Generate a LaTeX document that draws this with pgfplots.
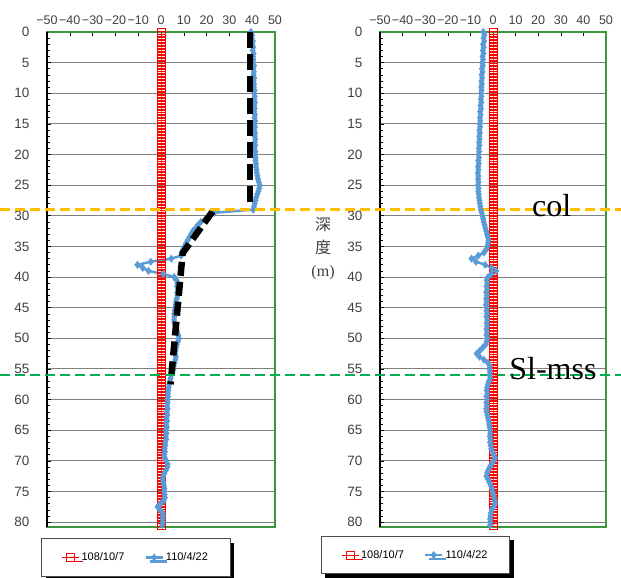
\documentclass[border=0pt]{standalone}
\usepackage{pgfplots}
\pgfplotsset{compat=1.18}
\usepackage{pgfplotstable}
\usepackage{fontspec}
\setmainfont{Liberation Sans}
\newfontfamily\serif{Liberation Serif}
\newfontfamily\cjk{Noto Sans CJK TC}
\usetikzlibrary{shadows}
\definecolor{bl}{RGB}{91,155,213}
\definecolor{tl}{RGB}{64,64,64}
\definecolor{fr}{RGB}{60,150,60}
\definecolor{org}{RGB}{255,192,0}
\definecolor{grn}{RGB}{0,176,80}

\pgfplotstableread{
d a b
0 0 39.5
0.5 0 40.0
1 0 39.8
1.5 0 40.3
2 0 40.1
2.5 0 40.4
3 0 40.2
3.5 0 40.6
4 0 40.3
4.5 0 40.5
5 0 40.4
5.5 0 40.8
6 0 40.5
6.5 0 40.7
7 0 40.6
7.5 0 40.9
8 0 40.6
8.5 0 40.8
9 0 40.7
9.5 0 41.0
10 0 40.8
10.5 0 41.1
11 0 40.9
11.5 0 41.2
12 0 40.9
12.5 0 41.1
13 0 40.8
13.5 0 41.2
14 0 41.0
14.5 0 41.3
15 0 41.0
15.5 0 41.2
16 0 40.9
16.5 0 41.3
17 0 41.1
17.5 0 41.4
18 0 41.1
18.5 0 41.3
19 0 41.0
19.5 0 41.4
20 0 41.3
20.5 0 41.5
21 0 41.4
21.5 0 41.7
22 0 41.7
22.5 0 41.9
23 0 42.0
23.5 0 42.3
24 0 42.5
24.5 0 42.9
25 0 43.3
25.5 0 43.1
26 0 42.7
26.5 0 42.2
27 0 41.8
27.5 0 41.5
28 0 41.1
28.5 0 40.8
29 0 40.5
29.5 0 23.4
30 0 21.5
30.5 0 19.5
31 0 17.5
31.5 0 16.2
32 0 15.2
32.5 0 14.0
33 0 13.2
33.5 0 12.5
34 0 11.7
34.5 0 11.0
35 0 10.3
35.5 0 9.7
36 0 9.2
36.5 0 8.8
37 0 4.5
37.5 0 -4.5
38 0 -10.3
38.5 0 -8.0
39 0 -5.5
39.5 0 1.0
40 0 5.8
40.5 0 6.8
41 0 7.2
41.5 0 7.0
42 0 7.4
42.5 0 7.1
43 0 7.3
43.5 0 6.9
44 0 6.6
44.5 0 6.4
45 0 6.2
45.5 0 6.0
46 0 5.8
46.5 0 5.9
47 0 5.7
47.5 0 5.8
48 0 6.3
48.5 0 6.8
49 0 7.2
49.5 0 7.6
50 0 7.9
50.5 0 7.4
51 0 6.9
51.5 0 6.6
52 0 6.4
52.5 0 6.2
53 0 6.5
53.5 0 6.3
54 0 5.9
54.5 0 5.6
55 0 5.5
55.5 0 5.0
56 0 4.5
56.5 0 4.2
57 0 3.9
57.5 0 3.6
58 0 3.3
58.5 0 3.2
59 0 3.0
59.5 0 3.1
60 0 2.8
60.5 0 2.9
61 0 2.6
61.5 0 2.9
62 0 2.5
62.5 0 2.8
63 0 2.4
63.5 0 2.7
64 0 2.3
64.5 0 2.6
65 0 2.2
65.5 0 2.4
66 0 2.1
66.5 0 2.3
67 0 1.8
67.5 0 1.9
68 0 1.6
68.5 0 1.7
69 0 1.4
69.5 0 1.6
70 0 2.3
70.5 0 2.9
71 0 2.8
71.5 0 2.2
72 0 1.5
72.5 0 1.0
73 0 0.7
73.5 0 1.0
74 0 1.3
74.5 0 1.5
75 0 1.4
75.5 0 1.6
76 0 1.7
76.5 0 1.2
77 0 -0.2
77.5 0 -1.5
78 0 -0.5
78.5 0 0.7
79 0 0.9
79.5 0 0.7
80 0 0.8
80.5 0 0.6
}\lefttab

\pgfplotstableread{
d a b
0 0 -4.3
0.5 0 -3.8
1 0 -4.2
1.5 0 -3.9
2 0 -4.4
2.5 0 -4.1
3 0 -4.5
3.5 0 -4.2
4 0 -4.6
4.5 0 -4.4
5 0 -4.7
5.5 0 -4.5
6 0 -4.9
6.5 0 -4.6
7 0 -5.0
7.5 0 -4.8
8 0 -5.1
8.5 0 -4.9
9 0 -5.2
9.5 0 -5.0
10 0 -5.3
10.5 0 -5.1
11 0 -5.4
11.5 0 -5.2
12 0 -5.5
12.5 0 -5.3
13 0 -5.7
13.5 0 -5.5
14 0 -5.8
14.5 0 -5.6
15 0 -5.9
15.5 0 -5.7
16 0 -6.0
16.5 0 -5.8
17 0 -6.1
17.5 0 -5.9
18 0 -6.2
18.5 0 -6.0
19 0 -6.3
19.5 0 -6.1
20 0 -6.4
20.5 0 -6.2
21 0 -6.5
21.5 0 -6.3
22 0 -6.6
22.5 0 -6.4
23 0 -6.7
23.5 0 -6.5
24 0 -6.6
24.5 0 -6.4
25 0 -6.6
25.5 0 -6.4
26 0 -6.5
26.5 0 -6.3
27 0 -6.2
27.5 0 -6.0
28 0 -5.8
28.5 0 -5.6
29 0 -5.4
29.5 0 -5.0
30 0 -4.7
30.5 0 -4.3
31 0 -4.1
31.5 0 -3.7
32 0 -3.4
32.5 0 -3.0
33 0 -2.7
33.5 0 -2.3
34 0 -2.0
34.5 0 -2.2
35 0 -2.6
35.5 0 -3.0
36 0 -4.0
36.5 0 -6.5
37 0 -9.5
37.5 0 -7.5
38 0 -3.5
38.5 0 -0.6
39 0 1.4
39.5 0 -0.8
40 0 -2.2
40.5 0 -2.8
41 0 -2.5
41.5 0 -2.9
42 0 -2.6
42.5 0 -3.0
43 0 -2.7
43.5 0 -3.0
44 0 -2.8
44.5 0 -3.1
45 0 -2.7
45.5 0 -2.9
46 0 -2.6
46.5 0 -2.9
47 0 -2.5
47.5 0 -2.8
48 0 -2.6
48.5 0 -2.9
49 0 -2.7
49.5 0 -2.9
50 0 -2.5
50.5 0 -2.8
51 0 -3.2
51.5 0 -4.5
52 0 -5.8
52.5 0 -7.2
53 0 -6.0
53.5 0 -4.0
54 0 -2.2
54.5 0 -1.5
55 0 -1.6
55.5 0 -1.3
56 0 -1.5
56.5 0 -1.2
57 0 -1.8
57.5 0 -2.2
58 0 -2.6
58.5 0 -2.8
59 0 -2.5
59.5 0 -2.9
60 0 -2.6
60.5 0 -2.9
61 0 -2.7
61.5 0 -3.0
62 0 -2.8
62.5 0 -2.5
63 0 -2.2
63.5 0 -1.9
64 0 -1.7
64.5 0 -1.5
65 0 -1.3
65.5 0 -1.2
66 0 -1.4
66.5 0 -1.1
67 0 -1.3
67.5 0 -1.0
68 0 -0.8
68.5 0 -0.3
69 0 0.4
69.5 0 0.9
70 0 0.3
70.5 0 -0.6
71 0 -1.4
71.5 0 -2.1
72 0 -2.6
72.5 0 -2.9
73 0 -2.2
73.5 0 -1.6
74 0 -1.0
74.5 0 -0.5
75 0 -0.2
75.5 0 0.2
76 0 0.5
76.5 0 0.8
77 0 0.9
77.5 0 0.2
78 0 -0.6
78.5 0 -0.9
79 0 -1.1
79.5 0 -1.3
80 0 -1.2
80.5 0 -1.3
}\righttab

\pgfplotsset{
 myax/.style={
  scale only axis, height=495pt,
  xmin=-50, xmax=50, ymin=0, ymax=80.8, y dir=reverse,
  xtick={-50,-40,...,50},
  xticklabels={−50,−40,−30,−20,−10,0,10,20,30,40,50},
  ytick={0,5,...,80}, minor y tick num=4,
  xticklabel pos=upper, xtick pos=upper, ytick pos=left,
  tick align=inside,
  major tick length=4pt, minor tick length=3pt,
  ymajorgrids, major grid style={gray, line width=1pt},
  axis line style={fr, line width=1.2pt},
  tick style={black, line width=0.6pt},
  ticklabel style={text=tl},
  xticklabel style={font=\fontsize{12.5}{14}\selectfont, yshift=4pt, inner xsep=0pt},
  yticklabel style={font=\fontsize{13.5}{15}\selectfont, xshift=-14pt},
  /pgf/number format/assume math mode=true,
  clip=false,
  legend columns=2,
  legend style={font=\fontsize{11}{13}\selectfont, draw=black!70, line width=0.8pt,
    inner xsep=20pt, inner ysep=12pt, anchor=center,
    drop shadow={shadow xshift=4pt, shadow yshift=-4pt, fill=black, opacity=1},
    /tikz/every even column/.append style={column sep=18pt}},
 },
 redser/.style={red, line width=0.6pt, mark=square, mark size=4pt, mark options={solid, line width=0.5pt}},
 blueser/.style={bl, line width=2.5pt, mark=diamond*, mark size=2pt, mark options={solid}},
}

\begin{document}
\begin{tikzpicture}[x=1pt,y=1pt]
\useasboundingbox (0,0) rectangle (621,578);
\begin{axis}[myax, width=228pt, at={(47pt,51pt)}, anchor=south west,
  legend style={at={(0.39,-0.0616)}}]
\addplot[redser] table[x=a, y=d] {\lefttab};
\addlegendentry{108/10/7}
\addplot[blueser] table[x=b, y=d] {\lefttab};
\addlegendentry{110/4/22}
\draw[black, line width=1.2pt] (rel axis cs:0,0) -- (rel axis cs:0,1);
\end{axis}
% overlay axis for the trend line, drawn above the blue marks
\begin{axis}[scale only axis, hide axis, width=228pt, height=495pt, at={(47pt,51pt)}, anchor=south west,
  xmin=-50, xmax=50, ymin=0, ymax=80.8, y dir=reverse, clip=false]
\addplot[black, line width=6.5pt, dash pattern=on 16pt off 6pt] coordinates {(39,0) (39,28.5)};
\addplot[black, line width=6.5pt, dash pattern=on 14pt off 6pt] coordinates {(22.6,29.3) (9.5,36.1) (8.4,40.5) (4.2,57.5)};
\end{axis}
\begin{axis}[myax, width=226pt, at={(380pt,51pt)}, anchor=south west,
  legend style={at={(0.157,-0.0566)}}]
\addplot[redser] table[x=a, y=d] {\righttab};
\addlegendentry{108/10/7}
\addplot[blueser] table[x=b, y=d] {\righttab};
\addlegendentry{110/4/22}
\draw[black, line width=1.2pt] (rel axis cs:0,0) -- (rel axis cs:0,1);
\draw[org, line width=2.5pt, dash pattern=on 10pt off 5pt] (axis cs:-218.1,29) -- (axis cs:56.6,29);
\draw[grn, line width=2.5pt, dash pattern=on 10pt off 5pt] (axis cs:-218.1,56) -- (axis cs:56.6,56);
\node[font=\serif\fontsize{32}{36}\selectfont] at (axis cs:26,28.3) {col};
\node[font=\serif\fontsize{32}{36}\selectfont] at (axis cs:26.5,54.9) {Sl-mss};
\node[align=center, text=tl, font=\fontsize{16}{23}\selectfont] at (axis cs:-75.2,35.3) {{\cjk 深}\\{\cjk 度}\\{\serif (m)}};
\end{axis}
\end{tikzpicture}
\end{document}
